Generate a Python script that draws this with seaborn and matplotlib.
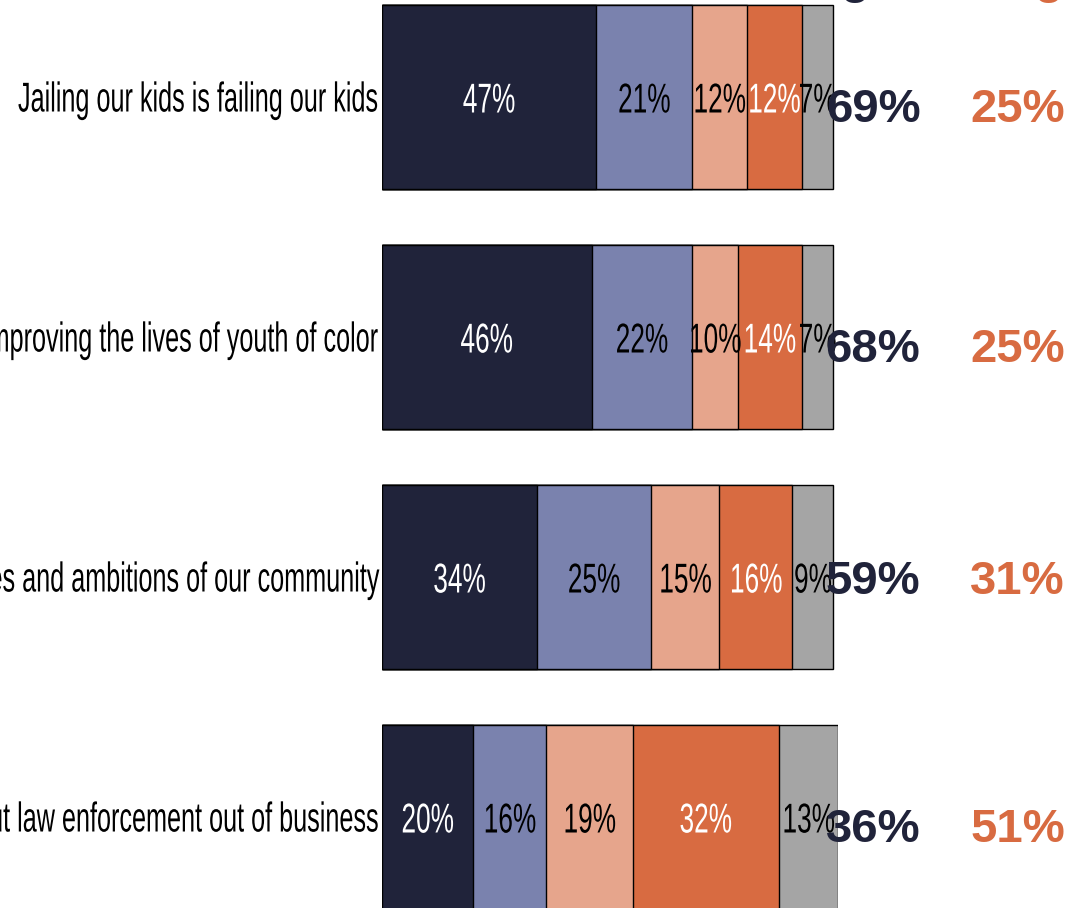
import numpy as np
import pandas as pd
import matplotlib
matplotlib.use("Agg")
import matplotlib.pyplot as plt
from matplotlib.patheffects import AbstractPathEffect
from matplotlib.transforms import Affine2D
import seaborn as sns

# Statements (left side gets clipped by the figure edge, as in the reference)
statements = [
    "Jailing our kids is failing our kids",
    "We should focus on improving the lives of youth of color",
    "Our justice system should reflect the values and ambitions of our community",
    "Reducing youth incarceration will put law enforcement out of business",
]
categories = ["Strongly agree", "Somewhat agree", "Somewhat disagree", "Strongly disagree", "Don't know"]
strongly_agree = [47, 46, 34, 20]
somewhat_agree = [21, 22, 25, 16]
somewhat_disagree = [12, 10, 15, 19]
strongly_disagree = [12, 14, 16, 32]
dont_know = [7, 7, 9, 13]
total_agree = [69, 68, 59, 36]
total_disagree = [25, 25, 31, 51]

colors = ["#20233a", "#7a82ae", "#e6a58c", "#d86b41", "#a5a5a5"]
text_colors = ["white", "black", "black", "white", "black"]


class Squeeze(AbstractPathEffect):
    """Narrow the text horizontally (the reference uses a condensed face)."""

    def __init__(self, sx=0.63, anchor="center"):
        super().__init__()
        self.sx = sx
        self.anchor = anchor

    def draw_path(self, renderer, gc, tpath, affine, rgbFace=None):
        ext = tpath.get_extents()
        if self.anchor == "right":
            cx = ext.x1
        elif self.anchor == "left":
            cx = ext.x0
        else:
            cx = (ext.x0 + ext.x1) / 2
        t = Affine2D().translate(-cx, 0).scale(self.sx, 1).translate(cx, 0) + affine
        renderer.draw_path(gc, tpath, t, rgbFace)


sns.set_theme(style="white")
plt.rcParams["font.family"] = ["Liberation Sans", "DejaVu Sans"]

W, H = 1073, 908
fig = plt.figure(figsize=(W / 100, H / 100), dpi=100)
px_per_pct = 4.56
left_px = 382
row_px = 240
ax = fig.add_axes([left_px / W, 0, 100 * px_per_pct / W, 1])

df = pd.DataFrame({
    "statement": statements,
    categories[0]: strongly_agree,
    categories[1]: somewhat_agree,
    categories[2]: somewhat_disagree,
    categories[3]: strongly_disagree,
    categories[4]: dont_know,
})
cum = df[categories].cumsum(axis=1)
cum["statement"] = statements

# Stacked bars: draw cumulative totals from widest to narrowest
for cat, col in reversed(list(zip(categories, colors))):
    sns.barplot(data=cum, x=cat, y="statement", orient="h", color=col,
                edgecolor="black", linewidth=1, width=0.77, saturation=1, ax=ax)

# baseline offsets below the row centre, in pixels
seg_base = 15.5 / row_px
lab_base = 14.5 / row_px
tot_base = [24.5 / row_px, 24.5 / row_px, 16.5 / row_px, 24.5 / row_px]

# Segment labels, statements and totals
for i in range(len(statements)):
    start = 0
    for cat, tc in zip(categories, text_colors):
        v = df.loc[i, cat]
        ax.text(start + v / 2, i + seg_base, f"{v}%", ha="center", va="baseline",
                color=tc, fontsize=30, path_effects=[Squeeze(0.63, "center")])
        start += v
    ax.text(-1.1, i + lab_base, statements[i], ha="right", va="baseline", color="black",
            fontsize=30, clip_on=False, path_effects=[Squeeze(0.605, "right")])
    ax.text(107.7, i + tot_base[i], f"{total_agree[i]}%", ha="center", va="baseline",
            color=colors[0], fontsize=34, fontweight="bold", clip_on=False)
    ax.text(139.4, i + tot_base[i], f"{total_disagree[i]}%", ha="center", va="baseline",
            color=colors[3], fontsize=34, fontweight="bold", clip_on=False)

# Column headers, mostly above the visible area
top = -97 / row_px
ax.text(108, top - 7 / row_px, "Agree", ha="center", va="baseline",
        color=colors[0], fontsize=34, fontweight="bold", clip_on=False)
ax.text(143.3, top - 7 / row_px, "Disagree", ha="center", va="baseline",
        color=colors[3], fontsize=34, fontweight="bold", clip_on=False)

ax.set_xlim(0, 100)
ax.set_ylim((H - 97) / row_px, top)
ax.set_xticks([])
ax.set_yticks([])
ax.set_xlabel("")
ax.set_ylabel("")
sns.despine(ax=ax, left=True, bottom=True)

fig.savefig("out.png", dpi=100)
